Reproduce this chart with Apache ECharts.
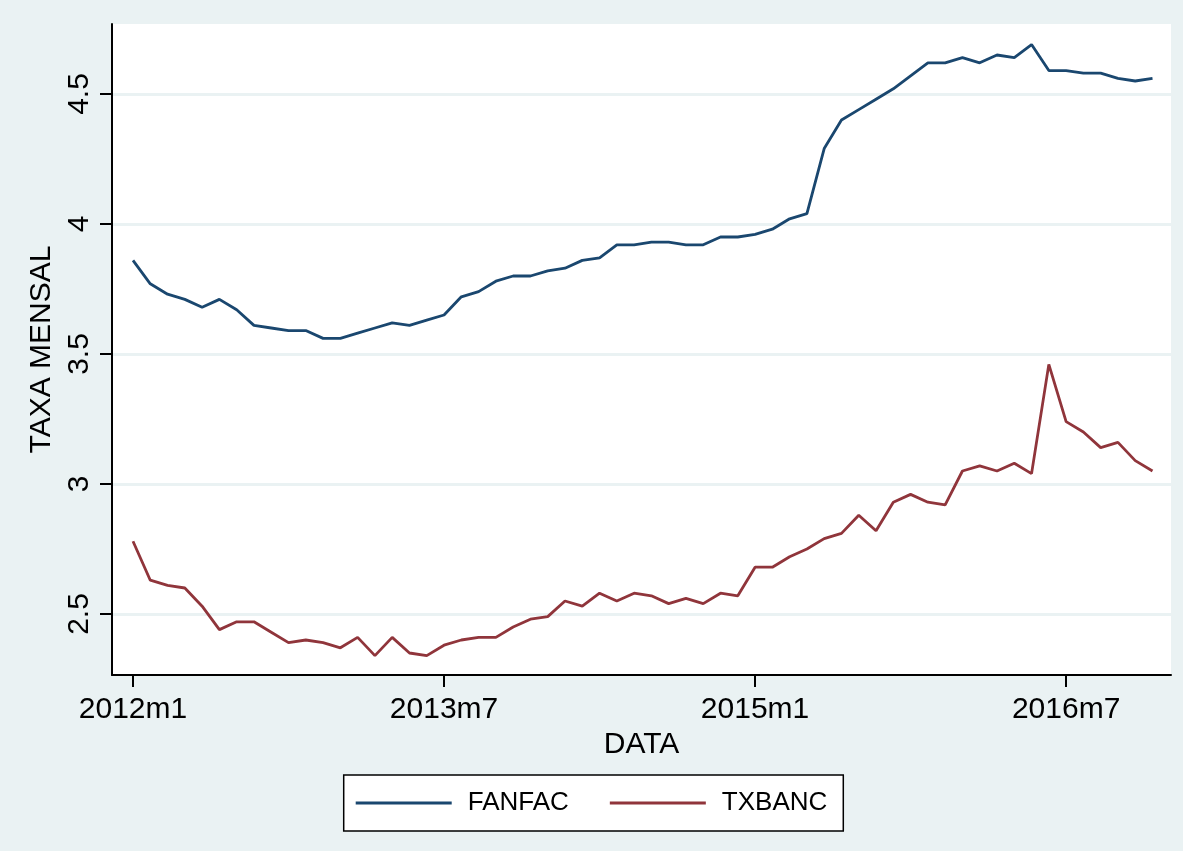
<!DOCTYPE html>
<html>
<head>
<meta charset="utf-8">
<script src="https://cdn.jsdelivr.net/npm/echarts@6/dist/echarts.min.js"></script>
<style>
    html, body { margin: 0; padding: 0; background: #eaf2f3; }
    #main { width: 1183px; height: 851px; }
</style>
</head>
<body>
<div id="main"></div>
<script>
// monthly labels 2012m1 .. 2016m12
var months = []
for (var yr = 2012; yr <= 2016; yr++) {
    for (var m = 1; m <= 12; m++) months.push(yr + 'm' + m)
}

var fanfac = [3.86, 3.77, 3.73, 3.71, 3.68, 3.71, 3.67, 3.61, 3.60, 3.59,
              3.59, 3.56, 3.56, 3.58, 3.60, 3.62, 3.61, 3.63, 3.65, 3.72,
              3.74, 3.78, 3.80, 3.80, 3.82, 3.83, 3.86, 3.87, 3.92, 3.92,
              3.93, 3.93, 3.92, 3.92, 3.95, 3.95, 3.96, 3.98, 4.02, 4.04,
              4.29, 4.40, 4.44, 4.48, 4.52, 4.57, 4.62, 4.62, 4.64, 4.62,
              4.65, 4.64, 4.69, 4.59, 4.59, 4.58, 4.58, 4.56, 4.55, 4.56]

var txbanc = [2.78, 2.63, 2.61, 2.60, 2.53, 2.44, 2.47, 2.47, 2.43, 2.39,
              2.40, 2.39, 2.37, 2.41, 2.34, 2.41, 2.35, 2.34, 2.38, 2.40,
              2.41, 2.41, 2.45, 2.48, 2.49, 2.55, 2.53, 2.58, 2.55, 2.58,
              2.57, 2.54, 2.56, 2.54, 2.58, 2.57, 2.68, 2.68, 2.72, 2.75,
              2.79, 2.81, 2.88, 2.82, 2.93, 2.96, 2.93, 2.92, 3.05, 3.07,
              3.05, 3.08, 3.04, 3.46, 3.24, 3.20, 3.14, 3.16, 3.09, 3.05]

var xTicks = [0, 18, 36, 54]          // 2012m1, 2013m7, 2015m1, 2016m7
var yTicks = [2.5, 3, 3.5, 4, 4.5]

var FONT = '"Liberation Sans", Arial, Helvetica, sans-serif'

function pairs(arr) {
    return arr.map(function (v, i) { return [i, v] })
}

var chart = echarts.init(document.getElementById('main'))

var option = {
    animation: false,
    backgroundColor: '#eaf2f3',
    textStyle: { fontFamily: FONT },
    grid: {
        left: 112,
        top: 24,
        right: 12,
        bottom: 176,
        show: true,
        backgroundColor: '#ffffff',
        borderWidth: 0,
    },
    legend: {
        left: 'center',
        top: 775,
        icon: 'rect',
        itemWidth: 96,
        itemHeight: 3,
        itemGap: 41,
        padding: [15, 16, 15, 12],
        borderColor: '#000',
        borderWidth: 1.5,
        backgroundColor: '#ffffff',
        textStyle: {
            fontSize: 26,
            color: '#000',
            padding: [0, 0, 0, 11],
        },
        data: ['FANFAC', 'TXBANC'],
    },
    xAxis: {
        type: 'value',
        min: -1.215,
        max: 60.07,
        name: 'DATA',
        nameLocation: 'middle',
        nameGap: 50,
        nameTextStyle: { fontSize: 30, color: '#000' },
        axisLine: { show: true, onZero: false, lineStyle: { color: '#000', width: 2 } },
        axisTick: {
            show: true,
            length: 12,
            customValues: xTicks,
            lineStyle: { color: '#000', width: 2 },
        },
        axisLabel: {
            customValues: xTicks,
            fontSize: 30,
            color: '#000',
            margin: 20,
            formatter: function (v) { return months[Math.round(v)] },
        },
        splitLine: { show: false },
    },
    yAxis: {
        type: 'value',
        min: 2.2654,
        max: 4.7692,
        name: 'TAXA MENSAL',
        nameLocation: 'middle',
        nameGap: 42,
        nameTextStyle: { fontSize: 30, color: '#000' },
        axisLine: { show: true, onZero: false, lineStyle: { color: '#000', width: 2 } },
        axisTick: {
            show: true,
            length: 12,
            customValues: yTicks,
            lineStyle: { color: '#000', width: 2 },
        },
        axisLabel: {
            customValues: yTicks,
            fontSize: 30,
            color: '#000',
            rotate: 90,
            margin: 17,
        },
        splitLine: { show: true, lineStyle: { color: '#eaf2f3', width: 3 } },
    },
    series: [
        {
            name: 'FANFAC',
            type: 'line',
            data: pairs(fanfac),
            showSymbol: false,
            color: '#1a476f',
            lineStyle: { color: '#1a476f', width: 2.8 },
        },
        {
            name: 'TXBANC',
            type: 'line',
            data: pairs(txbanc),
            showSymbol: false,
            color: '#90353b',
            lineStyle: { color: '#90353b', width: 2.8 },
        },
    ],
}

chart.setOption(option)
</script>
</body>
</html>
